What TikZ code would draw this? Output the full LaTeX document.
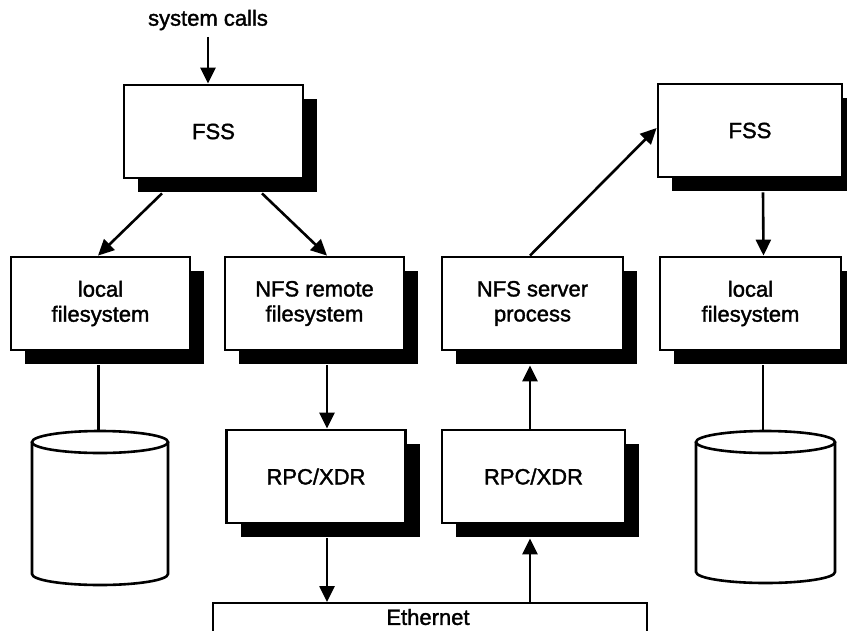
\documentclass[tikz,border=0pt]{standalone}
\usepackage{fontspec}
\setmainfont{Liberation Sans}[BoldFont={Liberation Sans}, BoldFeatures={FakeBold=1.6}]
\usetikzlibrary{arrows.meta,shadows}
\begin{document}
\begin{tikzpicture}[x=1pt,y=-1pt,
  lbl/.style={font=\fontsize{22}{25}\selectfont\bfseries},
  box/.style={draw, line width=2.8pt, fill=white, minimum width=179pt, minimum height=93pt,
    align=center, inner sep=0pt, lbl,
    general shadow={fill=black, draw=none, shadow xshift=14pt, shadow yshift=-14pt}},
  arr/.style={line width=2.6pt, -{Triangle[length=16pt,width=15pt]}},
  link/.style={line width=2.2pt},
  cyl/.style={line width=2.6pt, fill=white}]
\useasboundingbox (0,0) rectangle (847,630);
\clip (0,0) rectangle (847,630);

% boxes
\node[box] (fss1) at (213.5,131.5) {FSS};
\node[box] (lfs1) at (100.5,303.5) {local\\filesystem};
\node[box] (nfsr) at (314.5,303.5) {NFS remote\\filesystem};
\node[box] (rpc1) at (316,476.5) {RPC/XDR};
\node[box, minimum width=183pt] (rpc2) at (533.5,476.5) {RPC/XDR};
\node[box, minimum width=181pt] (nfss) at (532.5,303.5) {NFS server\\process};
\node[box, minimum width=184pt] (fss2) at (750,130.5) {FSS};
\node[box, minimum width=181pt] (lfs2) at (750.5,303.5) {local\\filesystem};

% ethernet
\node[draw, line width=2.4pt, minimum width=434pt, minimum height=60pt, anchor=north, inner sep=0pt] (eth) at (430,602) {};
\node[lbl] (ethl) at (428,617) {Ethernet};

% system calls
\node[lbl] (sc) at (208,20) {system calls};
\draw[arr] ([yshift=-3pt]sc.south) -- (sc.south |- fss1.north);

% cylinders
\draw[cyl] (32,442) -- (32,574) arc[start angle=180, end angle=360, x radius=68pt, y radius=11pt] -- (168,442);
\draw[cyl] (100,442) ellipse[x radius=68pt, y radius=11pt];
\coordinate (cyl1) at (98.5,431);
\draw[cyl] (696,442) -- (696,572) arc[start angle=180, end angle=360, x radius=69.5pt, y radius=11pt] -- (835,442);
\draw[cyl] (765.5,442) ellipse[x radius=69.5pt, y radius=11pt];
\coordinate (cyl2) at (763,431);

% connectors
\draw[arr] ([xshift=-51.5pt,yshift=-14pt]fss1.south) -- ([xshift=-2.5pt]lfs1.north);
\draw[arr] ([xshift=48.5pt,yshift=-14pt]fss1.south) -- ([xshift=12.5pt]nfsr.north);
\draw[arr] ([xshift=12.5pt,yshift=-14pt]nfsr.south) -- ([xshift=11pt]rpc1.north);
\draw[arr] ([xshift=11pt,yshift=-14pt]rpc1.south) -- ([xshift=-103pt]eth.north);
\draw[arr] ([xshift=100pt]eth.north) -- ([xshift=-3.5pt,yshift=-14pt]rpc2.south);
\draw[arr] ([xshift=-3.5pt]rpc2.north) -- ([xshift=-2.5pt,yshift=-14pt]nfss.south);
\draw[arr] ([xshift=-2.5pt]nfss.north) -- ([yshift=2.5pt]fss2.west);
\draw[arr] ([xshift=13pt,yshift=-14pt]fss2.south) -- ([xshift=13pt]lfs2.north);
\draw[link] ([xshift=-2pt,yshift=-14pt]lfs1.south) -- (cyl1);
\draw[link] ([xshift=12.5pt,yshift=-14pt]lfs2.south) -- (cyl2);
\end{tikzpicture}
\end{document}
